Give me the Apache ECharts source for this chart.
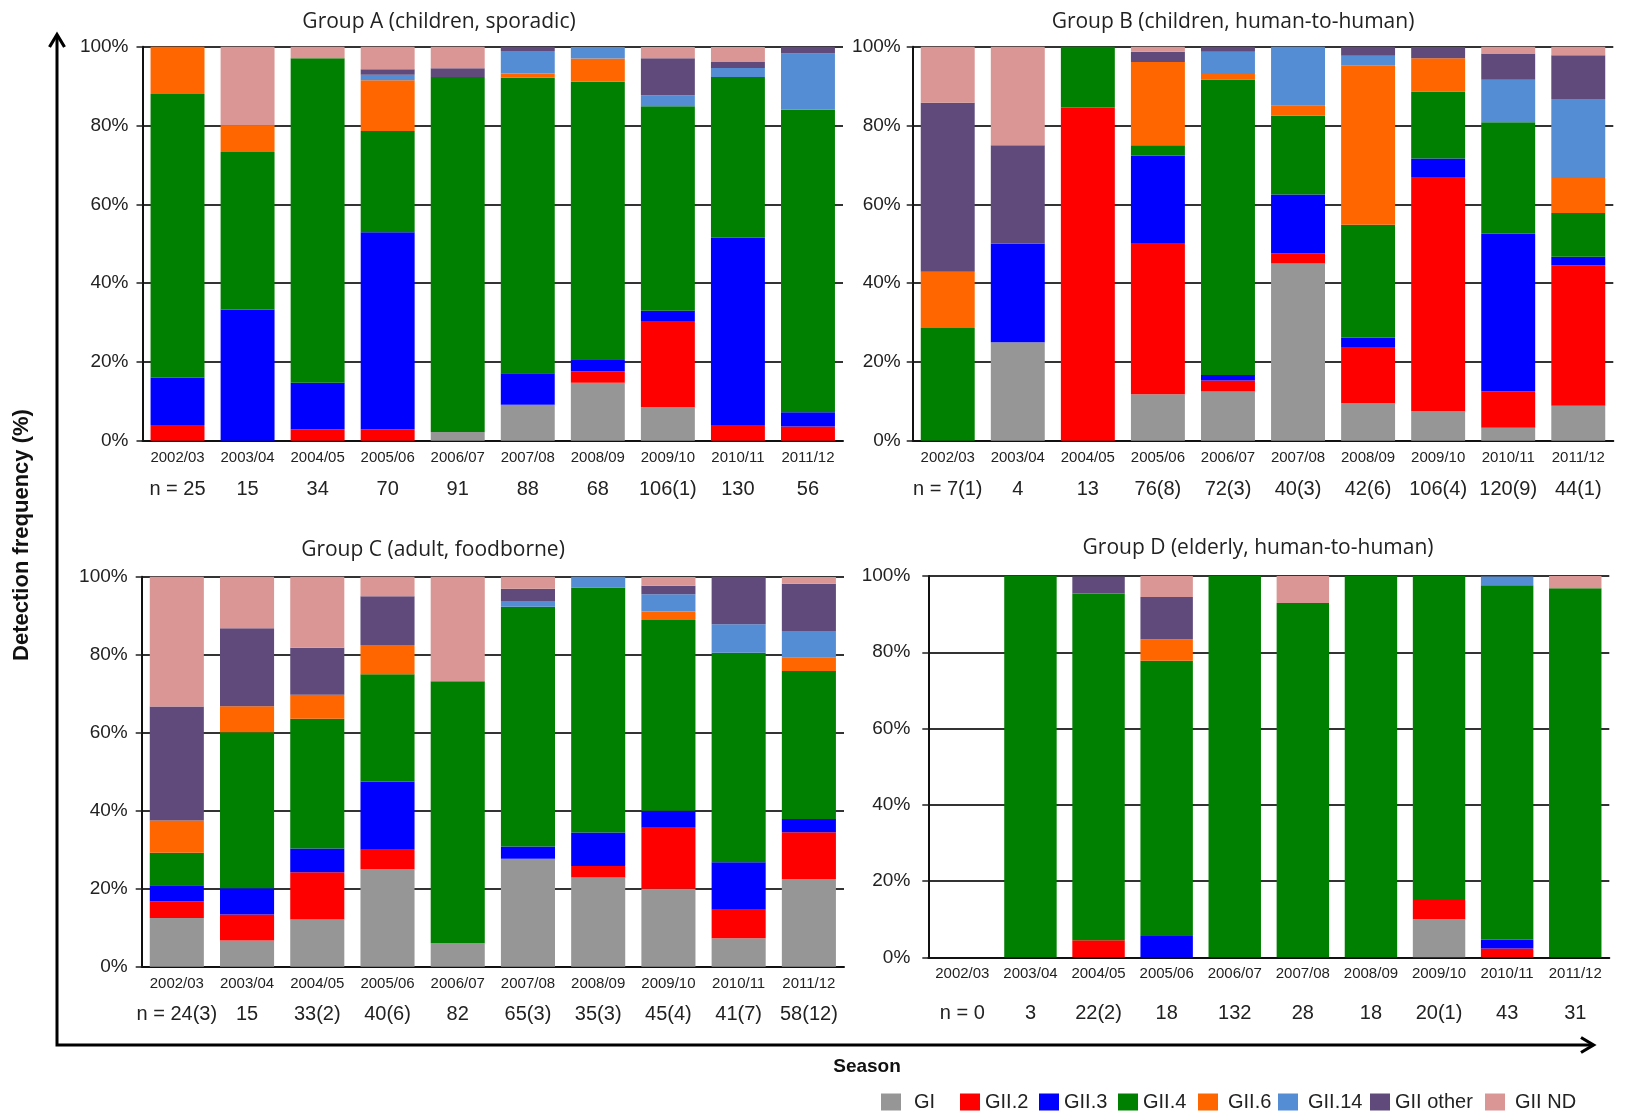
<!DOCTYPE html>
<html>
<head>
<meta charset="utf-8">
<script src="https://cdn.jsdelivr.net/npm/echarts@6/dist/echarts.min.js"></script>
<style>
  html, body { margin: 0; padding: 0; background: #ffffff; }
  #chart { width: 1630px; height: 1116px; }
</style>
</head>
<body>
<div id="chart"></div>
<script>
// Norovirus genotype detection frequency (%) by season, four surveillance groups
const seasons = ['2002/03', '2003/04', '2004/05', '2005/06', '2006/07', '2007/08', '2008/09', '2009/10', '2010/11', '2011/12'];
const genotypes = ['GI', 'GII.2', 'GII.3', 'GII.4', 'GII.6', 'GII.14', 'GII other', 'GII ND'];
const yTicks = [0, 20, 40, 60, 80, 100];

// Group A (children, sporadic)
const groupA_GI     = [0, 0, 0, 0, 2.2, 9.1, 14.7, 8.5, 0, 0];
const groupA_GII2   = [4, 0, 2.9, 2.9, 0, 0, 2.9, 21.7, 3.8, 3.6];
const groupA_GII3   = [12, 33.3, 11.8, 50, 0, 8.0, 2.9, 2.8, 47.7, 3.6];
const groupA_GII4   = [72, 40, 82.4, 25.7, 90.1, 75, 70.6, 51.9, 40.8, 76.8];
const groupA_GII6   = [12, 6.7, 0, 12.9, 0, 1.1, 5.9, 0, 0, 0];
const groupA_GII14  = [0, 0, 0, 1.4, 0, 5.7, 2.9, 2.8, 2.3, 14.3];
const groupA_other  = [0, 0, 0, 1.4, 2.2, 1.1, 0, 9.4, 1.5, 1.8];
const groupA_ND     = [0, 20, 2.9, 5.7, 5.5, 0, 0, 2.8, 3.8, 0];
const groupA_n      = ['n = 25', '15', '34', '70', '91', '88', '68', '106(1)', '130', '56'];

// Group B (children, human-to-human)
const groupB_GI     = [0, 25, 0, 11.8, 12.5, 45, 9.5, 7.5, 3.3, 8.9];
const groupB_GII2   = [0, 0, 84.6, 38.2, 2.8, 2.5, 14.3, 59.4, 9.2, 35.6];
const groupB_GII3   = [0, 25, 0, 22.4, 1.4, 15, 2.4, 4.7, 40, 2.2];
const groupB_GII4   = [28.6, 0, 15.4, 2.6, 75, 20, 28.6, 17.0, 28.3, 11.1];
const groupB_GII6   = [14.3, 0, 0, 21.1, 1.4, 2.5, 40.5, 8.5, 0, 8.9];
const groupB_GII14  = [0, 0, 0, 0, 5.6, 15, 2.4, 0, 10.8, 20];
const groupB_other  = [42.9, 25, 0, 2.6, 1.4, 0, 2.4, 2.8, 6.7, 11.1];
const groupB_ND     = [14.3, 25, 0, 1.3, 0, 0, 0, 0, 1.7, 2.2];
const groupB_n      = ['n = 7(1)', '4', '13', '76(8)', '72(3)', '40(3)', '42(6)', '106(4)', '120(9)', '44(1)'];

// Group C (adult, foodborne)
const groupC_GI     = [12.5, 6.7, 12.1, 25, 6.1, 27.7, 22.9, 20, 7.3, 22.4];
const groupC_GII2   = [4.2, 6.7, 12.1, 5, 0, 0, 2.9, 15.6, 7.3, 12.1];
const groupC_GII3   = [4.2, 6.7, 6.1, 17.5, 0, 3.1, 8.6, 4.4, 12.2, 3.4];
const groupC_GII4   = [8.3, 40, 33.3, 27.5, 67.1, 61.5, 62.8, 48.9, 53.7, 37.9];
const groupC_GII6   = [8.3, 6.7, 6.1, 7.5, 0, 0, 0, 2.2, 0, 3.4];
const groupC_GII14  = [0, 0, 0, 0, 0, 1.5, 2.9, 4.4, 7.3, 6.9];
const groupC_other  = [29.2, 20, 12.1, 12.5, 0, 3.1, 0, 2.2, 12.2, 12.1];
const groupC_ND     = [33.3, 13.3, 18.2, 5, 26.8, 3.1, 0, 2.2, 0, 1.7];
const groupC_n      = ['n = 24(3)', '15', '33(2)', '40(6)', '82', '65(3)', '35(3)', '45(4)', '41(7)', '58(12)'];

// Group D (elderly, human-to-human)
const groupD_GI     = [0, 0, 0, 0, 0, 0, 0, 10, 0, 0];
const groupD_GII2   = [0, 0, 4.5, 0, 0, 0, 0, 5, 2.3, 0];
const groupD_GII3   = [0, 0, 0, 5.6, 0, 0, 0, 0, 2.3, 0];
const groupD_GII4   = [0, 100, 90.9, 72.2, 100, 92.9, 100, 85, 93.0, 96.8];
const groupD_GII6   = [0, 0, 0, 5.6, 0, 0, 0, 0, 0, 0];
const groupD_GII14  = [0, 0, 0, 0, 0, 0, 0, 0, 2.3, 0];
const groupD_other  = [0, 0, 4.5, 11.1, 0, 0, 0, 0, 0, 0];
const groupD_ND     = [0, 0, 0, 5.6, 0, 7.1, 0, 0, 0, 3.2];
const groupD_n      = ['n = 0', '3', '22(2)', '18', '132', '28', '18', '20(1)', '43', '31'];

const colors = ['#969696', '#ff0000', '#0000ff', '#008000', '#ff6600', '#548dd4', '#5f4a7b', '#d99694'];
const SANS = "'Liberation Sans', Arial, Helvetica, sans-serif";
const TITLE_FONT = "'Open Sans', 'Noto Sans', sans-serif";

const panels = [
  { title: 'Group A (children, sporadic)', tx: 439, ty: 22,
    grid: { left: 142.5, top: 46.7, width: 700.5, height: 394 }, yMargin: 14, nLine: 48,
    series: [groupA_GI, groupA_GII2, groupA_GII3, groupA_GII4, groupA_GII6, groupA_GII14, groupA_other, groupA_ND], n: groupA_n },
  { title: 'Group B (children, human-to-human)', tx: 1233, ty: 22,
    grid: { left: 912.7, top: 46.7, width: 700.6, height: 394 }, yMargin: 12, nLine: 48,
    series: [groupB_GI, groupB_GII2, groupB_GII3, groupB_GII4, groupB_GII6, groupB_GII14, groupB_other, groupB_ND], n: groupB_n },
  { title: 'Group C (adult, foodborne)', tx: 433, ty: 550,
    grid: { left: 141.7, top: 576.7, width: 702.3, height: 390 }, yMargin: 14, nLine: 46,
    series: [groupC_GI, groupC_GII2, groupC_GII3, groupC_GII4, groupC_GII6, groupC_GII14, groupC_other, groupC_ND], n: groupC_n },
  { title: 'Group D (elderly, human-to-human)', tx: 1258, ty: 548,
    grid: { left: 928.3, top: 576, width: 681, height: 381.3 }, yMargin: 18, nLine: 62,
    series: [groupD_GI, groupD_GII2, groupD_GII3, groupD_GII4, groupD_GII6, groupD_GII14, groupD_other, groupD_ND], n: groupD_n }
];

const grids = [], xAxes = [], yAxes = [], series = [], graphics = [];

panels.forEach((p, pi) => {
  grids.push(Object.assign({ containLabel: false }, p.grid));
  xAxes.push({
    type: 'category', gridIndex: pi, data: seasons,
    axisLine: { lineStyle: { color: '#111', width: 2 } },
    axisTick: { show: false },
    axisLabel: {
      interval: 0, margin: 9, color: '#222',
      formatter: (v, i) => '{s|' + v + '}\n{n|' + p.n[i] + '}',
      rich: {
        s: { fontSize: 15, lineHeight: 16, fontFamily: SANS, color: '#222' },
        n: { fontSize: 20, lineHeight: p.nLine, fontFamily: SANS, color: '#222' }
      }
    }
  });
  yAxes.push({
    type: 'value', gridIndex: pi, min: yTicks[0], max: yTicks[yTicks.length - 1], interval: 20,
    axisLine: { show: true, lineStyle: { color: '#111', width: 2 } },
    axisTick: { show: true, inside: false, length: 6, lineStyle: { color: '#222', width: 1.5 } },
    axisLabel: { margin: p.yMargin, fontSize: 19, fontFamily: SANS, color: '#222', formatter: '{value}%' },
    splitLine: { show: true, lineStyle: { color: '#333', width: 2 } }
  });
  genotypes.forEach((g, gi) => {
    series.push({
      type: 'bar', name: g, stack: 'panel' + pi,
      xAxisIndex: pi, yAxisIndex: pi,
      data: p.series[gi],
      barCategoryGap: '23%',
      itemStyle: { color: colors[gi] },
      emphasis: { disabled: true },
      silent: true
    });
  });
  graphics.push({
    type: 'text', x: p.tx, y: p.ty,
    style: { text: p.title, font: '21px ' + TITLE_FONT, fill: '#222', textAlign: 'center', textVerticalAlign: 'middle' }
  });
});

// Outer axis arrows and shared axis titles
graphics.push(
  { type: 'polyline', shape: { points: [[57, 36], [57, 1045], [1592, 1045]] },
    style: { stroke: '#000', lineWidth: 3, fill: null, lineJoin: 'miter' } },
  { type: 'polyline', shape: { points: [[49.5, 47], [57, 34.5], [64.5, 47]] },
    style: { stroke: '#000', lineWidth: 3.2, fill: null, lineJoin: 'miter' } },
  { type: 'polyline', shape: { points: [[1581, 1037.5], [1593.5, 1045], [1581, 1052.5]] },
    style: { stroke: '#000', lineWidth: 3.2, fill: null, lineJoin: 'miter' } },
  { type: 'text', x: 22, y: 535, rotation: Math.PI / 2,
    style: { text: 'Detection frequency (%)', font: 'bold 22px ' + SANS, fill: '#111', textAlign: 'center', textVerticalAlign: 'middle' } },
  { type: 'text', x: 867, y: 1067,
    style: { text: 'Season', font: 'bold 19px ' + SANS, fill: '#111', textAlign: 'center', textVerticalAlign: 'middle' } }
);

// Legend entries placed one by one along the bottom
const legendLeft = [881, 960, 1039, 1118, 1198, 1278, 1370, 1485];
const legendPad  = [8, 0, 0, 0, 5, 5, 0, 5];
const legends = genotypes.map((g, i) => ({
  data: [g], left: legendLeft[i], top: 1092, padding: 0,
  orient: 'horizontal', icon: 'rect', itemWidth: 20, itemHeight: 17,
  selectedMode: false,
  textStyle: { fontSize: 20, fontFamily: SANS, color: '#222', padding: [0, 0, 0, legendPad[i]] }
}));

const chart = echarts.init(document.getElementById('chart'), null, { renderer: 'canvas' });
chart.setOption({
  animation: false,
  backgroundColor: '#ffffff',
  grid: grids,
  xAxis: xAxes,
  yAxis: yAxes,
  legend: legends,
  series: series,
  graphic: graphics
});
</script>
</body>
</html>
